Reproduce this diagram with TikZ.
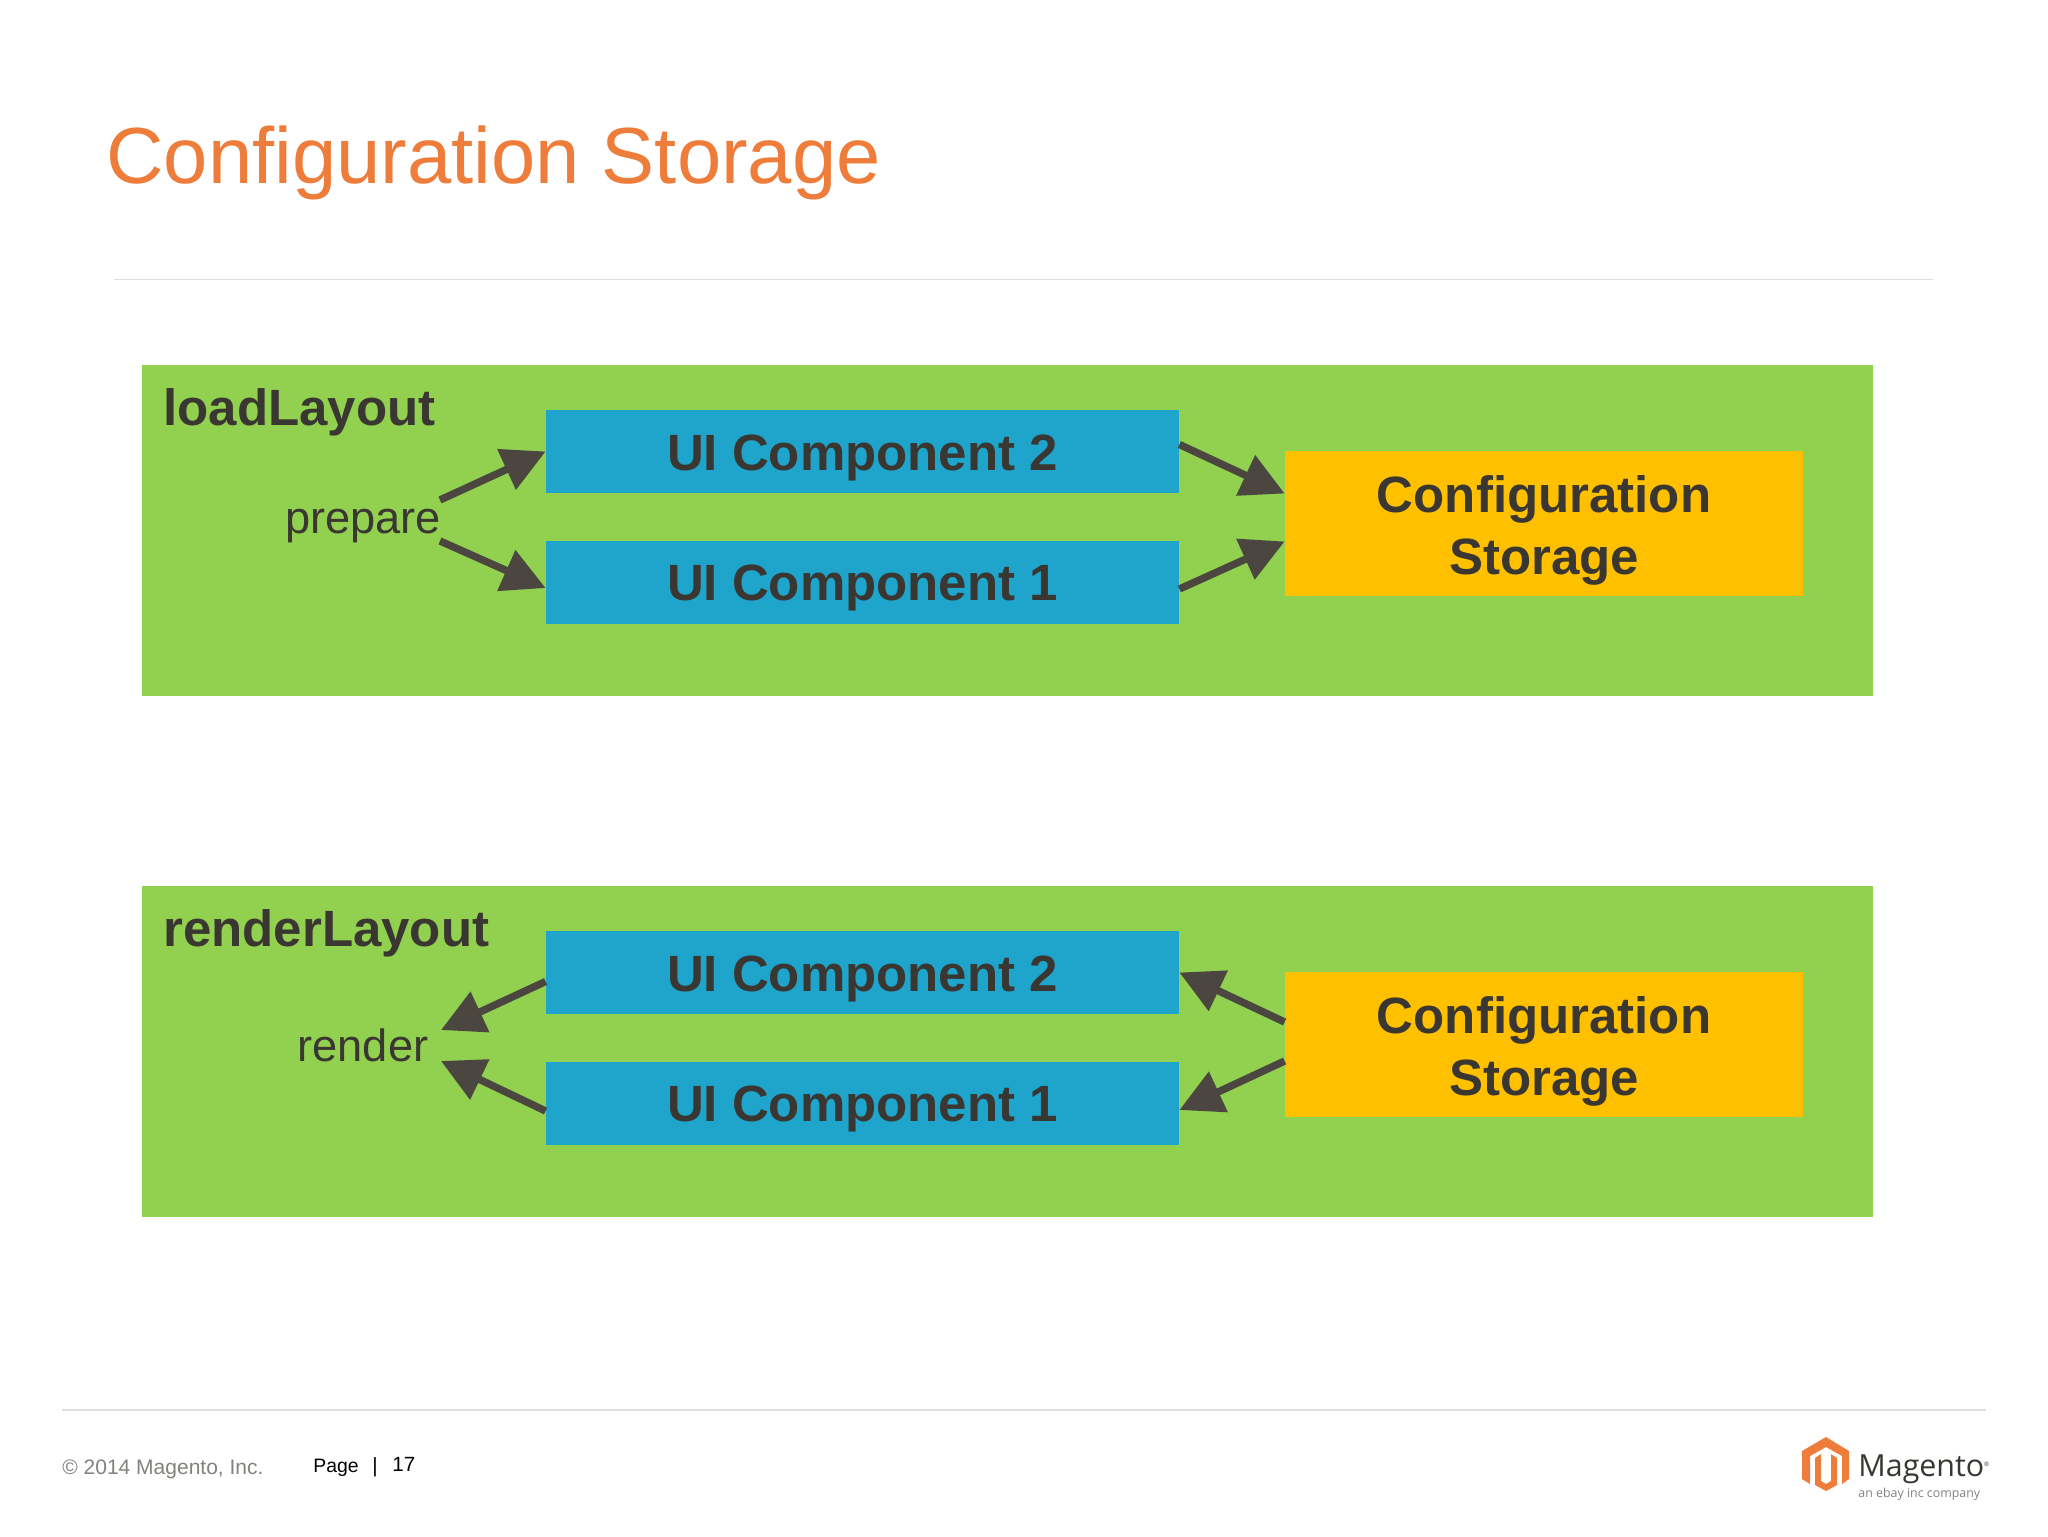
\documentclass[tikz,border=0pt]{standalone}
\usepackage{fontspec}
\setmainfont{Liberation Sans}
\newfontfamily\logofont{Open Sans}
\usetikzlibrary{arrows.meta,calc}
\definecolor{panelgreen}{HTML}{92D050}
\definecolor{uiblue}{HTML}{1FA5CB}
\definecolor{cfgorange}{HTML}{FFC000}
\definecolor{inkdark}{HTML}{3A3732}
\definecolor{arrowdark}{HTML}{4B4640}
\definecolor{titleorange}{HTML}{EE7D3B}
\definecolor{rulegrey}{HTML}{DEDEDE}
\definecolor{footgrey}{HTML}{85827E}
\tikzset{
  x=0.5pt,y=-0.5pt,
  panel/.style={fill=panelgreen,draw=none,inner sep=0pt,minimum width=865.5pt,minimum height=165.5pt},
  uibox/.style={fill=uiblue,draw=none,inner sep=0pt,minimum width=316.5pt,minimum height=41.5pt,
    text=inkdark,font=\fontsize{25.5}{31}\selectfont\bfseries,text height=18.6pt,text depth=0pt},
  cfgbox/.style={fill=cfgorange,draw=none,inner sep=0pt,minimum width=259pt,minimum height=72.5pt,
    text=inkdark},
  cfglabel/.style={inner sep=0pt,text=inkdark,font=\fontsize{25.5}{31}\selectfont\bfseries,align=center},
  heading/.style={anchor=base west,inner sep=0pt,text=inkdark,font=\fontsize{25.5}{31}\selectfont\bfseries},
  verb/.style={anchor=base,inner sep=0pt,text=inkdark,font=\fontsize{22.6}{27}\selectfont},
  flow/.style={draw=arrowdark,line width=3.7pt,-{Triangle[length=21.5pt,width=21.5pt]}},
  rulerline/.style={draw=rulegrey,line width=0.9pt},
}
\begin{document}
\begin{tikzpicture}
\useasboundingbox[fill=white] (0,0) rectangle (2048,1536);
\node[anchor=base west,inner sep=0pt,text=titleorange,font=\fontsize{39.8}{48}\selectfont] (title) at (106,183) {Configuration Storage};
\coordinate (rtl) at (114,279.5); \coordinate (rtr) at (1933,279.5);
\draw[rulerline] (rtl) -- (rtr);
% upper panel
\node[panel] (p1) at (1007.75,530.5) {};
\node[heading] (h1) at (163,425) {loadLayout};
\node[uibox] (u2a) at (862.5,451.5) {UI Component 2};
\node[uibox] (u1a) at (862.5,582) {UI Component 1};
\node[cfgbox] (c1) at (1544,523.5) {};
\node[cfglabel] (c1t) at (1544,530) {Configuration\\Storage};
\node[verb] (prep) at (363,533) {prepare};
\coordinate (pa) at (440,500); \coordinate (pb) at (440,541);
\draw[flow] (pa) -- (u2a.west);
\draw[flow] (pb) -- ($(u1a.west)+(0,6)$);
\draw[flow] ($(u2a.east)+(0,-7)$) -- ($(c1.west)+(0,-30)$);
\draw[flow] ($(u1a.east)+(0,7)$) -- ($(c1.west)+(0,18)$);
% lower panel
\node[panel] (p2) at (1007.75,1051.5) {};
\node[heading] (h2) at (163,946) {renderLayout};
\node[uibox] (u2b) at (862.5,972.5) {UI Component 2};
\node[uibox] (u1b) at (862.5,1103) {UI Component 1};
\node[cfgbox] (c2) at (1544,1044.5) {};
\node[cfglabel] (c2t) at (1544,1051) {Configuration\\Storage};
\node[verb] (rend) at (363,1061.5) {render};
\coordinate (ra) at (441,1030); \coordinate (rb) at (441,1061);
\draw[flow] ($(u2b.west)+(0,9)$) -- (ra);
\draw[flow] ($(u1b.west)+(0,8)$) -- (rb);
\draw[flow] ($(c2.west)+(0,-22.5)$) -- (u2b.east);
\draw[flow] ($(c2.west)+(0,16.5)$) -- ($(u1b.east)+(0,7)$);
% footer
\coordinate (rbl) at (62,1410); \coordinate (rbr) at (1986,1410);
\draw[rulerline] (rbl) -- (rbr);
\node[anchor=base west,inner sep=0pt,text=footgrey,font=\fontsize{10.5}{12}\selectfont] (copy) at (62,1474) {© 2014 Magento, Inc.};
\node[anchor=base west,inner sep=0pt,text=black,font=\fontsize{9.7}{12}\selectfont] (pg) at (313,1472) {Page};
\node[anchor=base,inner sep=0pt,text=black,font=\fontsize{10.3}{12}\selectfont] (bar) at (375,1472) {|};
\node[anchor=base west,inner sep=0pt,text=black,font=\fontsize{10.3}{12}\selectfont] (pnum) at (392,1471) {17};
% logo
\fill[titleorange] (1826,1437) -- (1849,1451) -- (1849,1479) -- (1842,1484) -- (1842,1456) -- (1826,1447) -- (1810,1456) -- (1810,1484) -- (1802,1479) -- (1802,1451) -- cycle;
\fill[titleorange] (1815,1458) -- (1821,1454) -- (1821,1481) -- (1826,1484) -- (1831,1481) -- (1831,1454) -- (1837,1458) -- (1837,1485) -- (1826,1491) -- (1815,1485) -- cycle;
\node[anchor=base west,inner sep=0pt,text=inkdark,font=\logofont\fontsize{15.2}{18}\selectfont] (mag) at (1858,1476) {Magento\raisebox{5pt}{\fontsize{3}{3}\selectfont ®}};
\node[anchor=base west,inner sep=0pt,text=footgrey,font=\logofont\fontsize{6.2}{7}\selectfont] (ebay) at (1858,1497) {an ebay inc company};
\end{tikzpicture}
\end{document}
